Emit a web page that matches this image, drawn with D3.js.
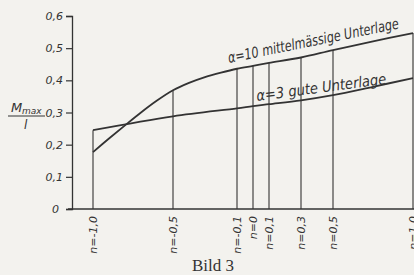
<!DOCTYPE html>
<html>
<head>
<meta charset="utf-8">
<script src="https://cdn.jsdelivr.net/npm/d3@7"></script>
<style>
    body { margin: 0; background: #f3f2ee; }
    svg { display: block; }
    .axis-label { font-family: "DejaVu Sans", sans-serif; font-style: italic; fill: #333; }
</style>
</head>
<body>
<div id="chart"></div>
<script>
// tick values
const yTicks = [0, 0.1, 0.2, 0.3, 0.4, 0.5, 0.6];
const nTicks = [-1, -0.5, -0.1, 0, 0.1, 0.3, 0.5, 1.0];
const nTickLabels = ["n=-1,0", "n=-0,5", "n=-0,1", "n=0", "n=0,1", "n=0,3", "n=0,5", "n=1,0"];

// alpha = 10, mittelmässige Unterlage
const nUpper = [-1, -0.9, -0.8, -0.7, -0.6, -0.5, -0.4, -0.3, -0.2, -0.1, 0, 0.1, 0.3, 0.5, 0.75, 1.0];
const mUpper = [0.177, 0.219, 0.26, 0.30, 0.337, 0.369, 0.392, 0.41, 0.424, 0.436, 0.445, 0.454, 0.471, 0.494, 0.521, 0.547];

// alpha = 3, gute Unterlage
const nLower = [-1, -0.5, -0.1, 0, 0.1, 0.3, 0.5, 0.75, 1.0];
const mLower = [0.245, 0.288, 0.313, 0.32, 0.326, 0.338, 0.354, 0.38, 0.407];

const W = 414, H = 275;
const ink = "#333";

let svg = d3.select("#chart").append("svg")
    .attr("width", W)
    .attr("height", H);

let x = d3.scaleLinear().domain([-1, 1]).range([93, 413]);
let y = d3.scaleLinear().domain([0, 0.6]).range([209, 16]);

// y axis
let yAxis = d3.axisLeft(y)
    .tickValues(yTicks)
    .tickSize(6)
    .tickPadding(3)
    .tickFormat(d => d === 0 ? "0" : d3.format(".1f")(d).replace(".", ","));

let gy = svg.append("g")
    .attr("transform", "translate(72,0)")
    .call(yAxis);
gy.select(".domain").attr("stroke", ink).attr("stroke-width", 1.3);
gy.selectAll(".tick line").attr("stroke", ink).attr("stroke-width", 1.2);
gy.selectAll(".tick text")
    .attr("class", "axis-label")
    .style("font-size", "11px")
    .attr("fill", ink);
gy.select(".tick text").attr("dx", -4);

// x baseline
svg.append("line")
    .attr("x1", 68).attr("x2", W)
    .attr("y1", y(0)).attr("y2", y(0))
    .attr("stroke", ink).attr("stroke-width", 1.3);

// vertical lines at each n up to the higher curve
let upperAt = d3.scaleLinear().domain(nUpper).range(mUpper);
let lowerAt = d3.scaleLinear().domain(nLower).range(mLower);
svg.selectAll(".vline")
    .data(nTicks)
    .enter()
    .append("line")
    .attr("class", "vline")
    .attr("x1", d => x(d)).attr("x2", d => x(d))
    .attr("y1", y(0))
    .attr("y2", d => y(Math.max(upperAt(d), lowerAt(d))))
    .attr("stroke", ink).attr("stroke-width", 1.1);

// x tick labels (rotated)
svg.selectAll(".xlab")
    .data(nTicks)
    .enter()
    .append("text")
    .attr("class", "axis-label")
    .attr("transform", d => `translate(${x(d) + 4},216) rotate(-90)`)
    .attr("text-anchor", "end")
    .style("font-size", "11px")
    .text((d, i) => nTickLabels[i]);

// curves
let line = d3.line().curve(d3.curveCatmullRom);
svg.append("path")
    .datum(nUpper.map((n, i) => [x(n), y(mUpper[i])]))
    .attr("d", line)
    .attr("fill", "none").attr("stroke", ink).attr("stroke-width", 1.8);
svg.append("path")
    .datum(nLower.map((n, i) => [x(n), y(mLower[i])]))
    .attr("d", line)
    .attr("fill", "none").attr("stroke", ink).attr("stroke-width", 1.8);

// curve labels
svg.append("text")
    .attr("class", "axis-label")
    .attr("transform", "translate(229,63) rotate(-11.5)")
    .style("font-size", "15px")
    .attr("textLength", 174)
    .attr("lengthAdjust", "spacingAndGlyphs")
    .text("α=10 mittelmässige Unterlage");
svg.append("text")
    .attr("class", "axis-label")
    .attr("transform", "translate(257,101) rotate(-7.5)")
    .style("font-size", "15px")
    .attr("textLength", 131)
    .attr("lengthAdjust", "spacingAndGlyphs")
    .text("α=3  gute Unterlage");

// y label: M_max / l
let yl = svg.append("g");
yl.append("text")
    .attr("class", "axis-label")
    .attr("x", 11).attr("y", 112)
    .style("font-size", "13px")
    .text("M");
yl.append("text")
    .attr("class", "axis-label")
    .attr("x", 22).attr("y", 114)
    .style("font-size", "9px")
    .text("max");
yl.append("line")
    .attr("x1", 8).attr("x2", 45)
    .attr("y1", 116).attr("y2", 116)
    .attr("stroke", ink).attr("stroke-width", 1.1);
yl.append("text")
    .attr("class", "axis-label")
    .attr("x", 24).attr("y", 129)
    .style("font-size", "12px")
    .text("l");

// caption
svg.append("text")
    .attr("x", 213).attr("y", 271)
    .attr("text-anchor", "middle")
    .style("font-family", "'Liberation Serif', serif")
    .style("font-size", "17px")
    .attr("fill", "#333")
    .text("Bild 3");
</script>
</body>
</html>
